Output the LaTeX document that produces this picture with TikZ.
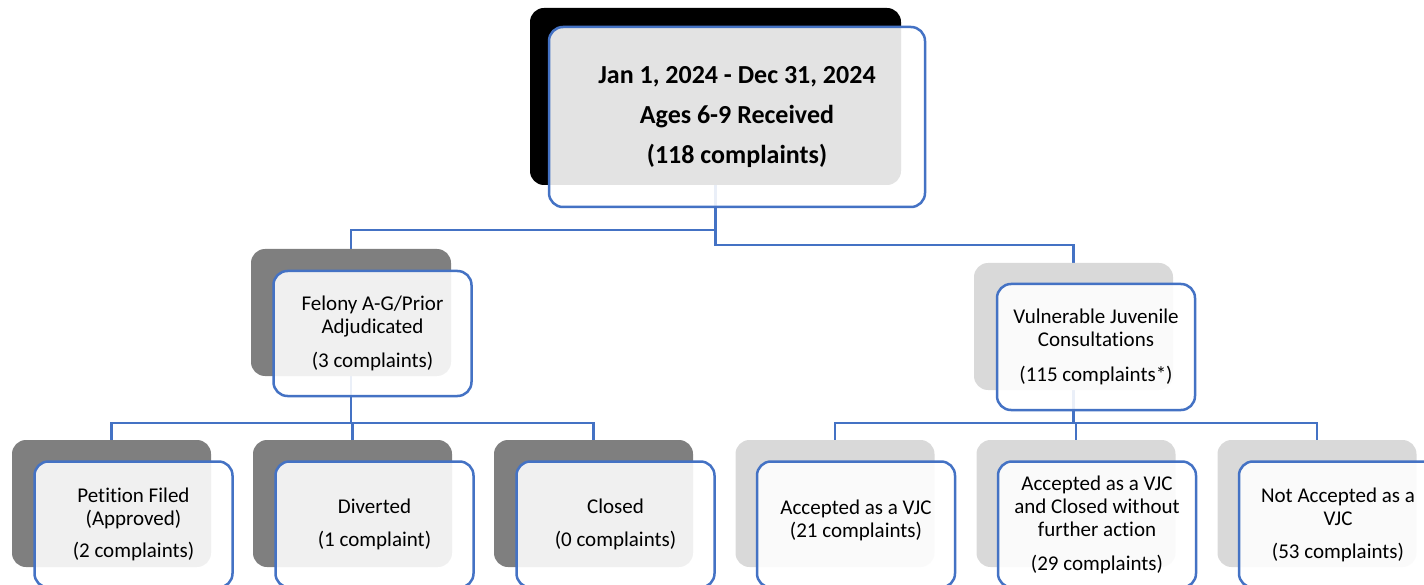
\documentclass[tikz,border=0pt]{standalone}
\usepackage{fontspec}
\setmainfont{Carlito}[Ligatures=NoCommon,RawFeature={-liga;-dlig}]
\definecolor{lnblue}{HTML}{4472C4}
\definecolor{midgray}{HTML}{7F7F7F}
\definecolor{ltgray}{HTML}{D9D9D9}
\tikzset{
  backbox/.style={rounded corners=14pt, minimum width=199pt, minimum height=127pt, inner sep=0pt, outer sep=0pt},
  frontbox/.style={draw=lnblue, line width=2.5pt, rounded corners=14pt, fill=white, fill opacity=0.89,
     draw opacity=1, text opacity=1, align=center, minimum width=198pt, minimum height=126pt,
     inner sep=0pt, outer sep=0pt, font=\fontsize{21}{23}\selectfont},
  conn/.style={draw=lnblue, line width=2.6pt}
}
\begin{document}
\begin{tikzpicture}[x=1pt,y=-1pt]
\useasboundingbox (0,0) rectangle (1424,585);
\clip (0,0) rectangle (1424,585);
% back boxes (positions only, drawn after connectors)
\path (715.5,96.5) node[backbox, minimum width=371pt, minimum height=177pt] (tb) {};
\path (351,312.5) node[backbox, minimum width=200pt] (fb) {};
\path (1073.5,326.5) node[backbox] (vb) {};
\path (111.5,503.5) node[backbox] (b1) {};
\path (352.5,503.5) node[backbox] (b2) {};
\path (593.5,503.5) node[backbox] (b3) {};
\path (835,503.5) node[backbox] (b4) {};
\path (1076,503.5) node[backbox] (b5) {};
\path (1317,503.5) node[backbox] (b6) {};
% connectors
\draw[conn] (tb.south) -- ++(0,45) -| (fb.north);
\draw[conn] (tb.south) -- ++(0,60) -| (vb.north);
\draw[conn] (fb.south) -- ++(0,47) -| (b1.north);
\draw[conn] (fb.south) -- ++(0,47) -| (b2.north);
\draw[conn] (fb.south) -- ++(0,47) -| (b3.north);
\draw[conn] (vb.south) -- ++(0,33) -| (b4.north);
\draw[conn] (vb.south) -- ++(0,33) -| (b5.north);
\draw[conn] (vb.south) -- ++(0,33) -| (b6.north);
% back boxes fill
\fill[black, rounded corners=14pt] (tb.north west) rectangle (tb.south east);
\fill[midgray, rounded corners=14pt] (fb.north west) rectangle (fb.south east);
\fill[ltgray, rounded corners=14pt] (vb.north west) rectangle (vb.south east);
\foreach \n in {b1,b2,b3}{\fill[midgray, rounded corners=14pt] (\n.north west) rectangle (\n.south east);}
\foreach \n in {b4,b5,b6}{\fill[ltgray, rounded corners=14pt] (\n.north west) rectangle (\n.south east);}
% front boxes
\node[frontbox, minimum width=376pt, minimum height=180pt, font=\bfseries\fontsize{26}{40}\selectfont] (tf) at (737,117)
  {Jan 1, 2024 - Dec 31, 2024\\Ages 6-9 Received\\(118 complaints)};
\node[frontbox, minimum height=125pt] (ff) at (372.5,333.5)
  {Felony A-G/Prior\\Adjudicated\\[11pt](3 complaints)};
\node[frontbox] (vf) at (1096,347)
  {Vulnerable Juvenile\\Consultations\\[12pt](115 complaints*)};
\node[frontbox] (f1) at (133.5,524.5) {Petition Filed\\(Approved)\\[9pt](2 complaints)};
\node[frontbox] (f2) at (374.5,524.5) {Diverted\\[10pt](1 complaint)};
\node[frontbox] (f3) at (615.5,524.5) {Closed\\[10pt](0 complaints)};
\node[frontbox] (f4) at (856,524.5) {Accepted as a VJC\\(21 complaints)\\[-12pt]\mbox{}};
\node[frontbox] (f5) at (1097,524.5) {Accepted as a VJC\\and Closed without\\further action\\[11pt](29 complaints)};
\node[frontbox] (f6) at (1338,524.5) {Not Accepted as a\\VJC\\[10pt](53 complaints)};
\end{tikzpicture}
\end{document}
